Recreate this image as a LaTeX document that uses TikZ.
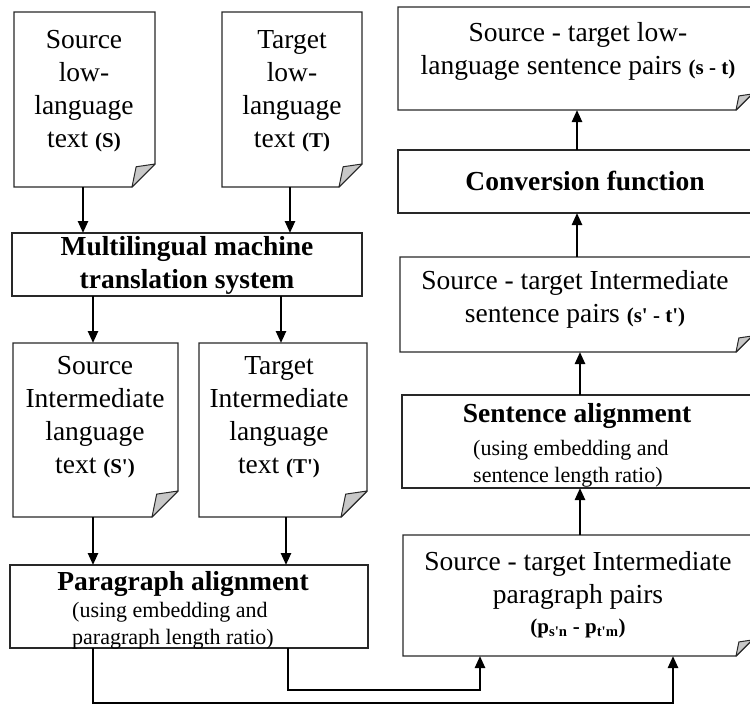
\documentclass[tikz,border=0pt]{standalone}
\usepackage{fontspec}
\setmainfont{Liberation Serif}
\usetikzlibrary{arrows.meta,calc}
\definecolor{foldgray}{RGB}{200,200,200}
\definecolor{edge}{RGB}{40,40,40}
\tikzset{
 boxline/.style={draw=edge,line width=1.4pt,fill=white,line join=miter},
 foldline/.style={draw=edge,line width=1pt,fill=foldgray,line join=round},
 rectbox/.style={draw=edge,line width=1.4pt,fill=white,inner sep=0pt,outer sep=0pt},
 areabox/.style={inner sep=0pt,outer sep=0pt},
 txt/.style={align=center,font=\fontsize{27.5}{33}\selectfont,inner sep=0pt},
 btxt/.style={align=center,font=\fontsize{27.5}{33}\selectfont\bfseries,inner sep=0pt},
 stxt/.style={align=left,font=\fontsize{22}{27}\selectfont,inner sep=0pt,anchor=west},
 arr/.style={-{Triangle[length=12pt,width=10pt]},line width=2.4pt},
}
\newcommand{\tagtxt}[1]{{\fontsize{21}{25}\selectfont\bfseries #1}}
\newcommand{\qs}{\textquotesingle}
% name, x1, y1, x2, y2, fold
\newcommand{\docshape}[6]{%
 \node[areabox,minimum width={(#4-#2)*1pt},minimum height={(#5-#3)*1pt}] (#1) at ({(#2+#4)/2},{(#3+#5)/2}) {};
 \draw[boxline] (#2,#3) -- (#4,#3) -- (#4,{#5-#6}) -- ({#4-#6},#5) -- (#2,#5) -- cycle;
 \filldraw[foldline] ({#4-#6},#5) -- ({#4-#6+0.18*#6},{#5-#6+0.12*#6}) -- (#4,{#5-#6}) -- cycle;
}
\begin{document}
\begin{tikzpicture}[x=1pt,y=-1pt]
\useasboundingbox[fill=white] (0,0) rectangle (750,710);

% left column documents
\docshape{d1}{14}{12}{155}{187}{23}
\docshape{d2}{222}{12}{362}{187}{23}
\node[txt] (t1) at (84,91) {Source\\low-\\language\\text \tagtxt{(S)}};
\node[txt] (t2) at (292,91) {Target\\low-\\language\\text \tagtxt{(T)}};

\node[rectbox,minimum width=350pt,minimum height=63pt] (mmt) at (187,264.5) {};
\node[btxt] (tmmt) at (187,265) {Multilingual machine\\translation system};

\docshape{d3}{13}{343}{178}{517}{26}
\docshape{d4}{199}{343}{367}{517}{26}
\node[txt] (t3) at (95,417) {Source\\Intermediate\\language\\text \tagtxt{(S\qs)}};
\node[txt] (t4) at (279,417) {Target\\Intermediate\\language\\text \tagtxt{(T\qs)}};

\node[rectbox,minimum width=358pt,minimum height=83pt] (para) at (189,606.5) {};
\node[btxt] (tpara) at (183,584) {Paragraph alignment};
\node[stxt] (spara) at (72,626) {(using embedding and\\paragraph length ratio)};

% right column
\docshape{top}{398}{7}{752}{110}{16}
\node[txt] (ttop) at (578,51) {Source - target low-\\language sentence pairs \tagtxt{(s - t)}};

\node[rectbox,minimum width=354pt,minimum height=63pt] (conv) at (575,181.5) {};
\node[btxt] (tconv) at (585,181) {Conversion function};

\docshape{si}{400}{257}{752}{352}{16}
\node[txt] (tsi) at (575,299) {Source - target Intermediate\\sentence pairs \tagtxt{(s\qs{} - t\qs)}};

\node[rectbox,minimum width=350pt,minimum height=93pt] (sa) at (577,441.5) {};
\node[btxt] (tsa) at (577,416) {Sentence alignment};
\node[stxt] (ssa) at (473,464) {(using embedding and\\sentence length ratio)};

\docshape{pp}{403}{535}{752}{656}{16}
\node[txt] (tpp) at (578,580) {Source - target Intermediate\\paragraph pairs};
\node[inner sep=0pt] (fpp) at (578,628) {\tagtxt{(p\textsubscript{s\qs n} - p\textsubscript{t\qs m})}};

% connector x positions
\coordinate (xa) at (83,0);
\coordinate (xb) at (290,0);
\coordinate (xc) at (93,0);
\coordinate (xd) at (281,0);
\coordinate (xe) at (286,0);
\coordinate (xg) at (288,0);
\coordinate (xh) at (480,0);
\coordinate (xi) at (673,0);
\coordinate (xj) at (580,0);
\coordinate (xk) at (577,0);
\coordinate (low1) at (0,703);
\coordinate (low2) at (0,690);

\draw[arr] (d1.south -| xa) -- (mmt.north -| xa);
\draw[arr] (d2.south -| xb) -- (mmt.north -| xb);
\draw[arr] (mmt.south -| xc) -- (d3.north -| xc);
\draw[arr] (mmt.south -| xd) -- (d4.north -| xd);
\draw[arr] (d3.south -| xc) -- (para.north -| xc);
\draw[arr] (d4.south -| xe) -- (para.north -| xe);
\draw[arr] (para.south -| xc) -- (low1 -| xc) -- (low1 -| xi) -- (pp.south -| xi);
\draw[arr] (para.south -| xg) -- (low2 -| xg) -- (low2 -| xh) -- (pp.south -| xh);
\draw[arr] (pp.north -| xj) -- (sa.south -| xj);
\draw[arr] (sa.north -| xj) -- (si.south -| xj);
\draw[arr] (si.north -| xk) -- (conv.south -| xk);
\draw[arr] (conv.north -| xk) -- (top.south -| xk);
\end{tikzpicture}
\end{document}
